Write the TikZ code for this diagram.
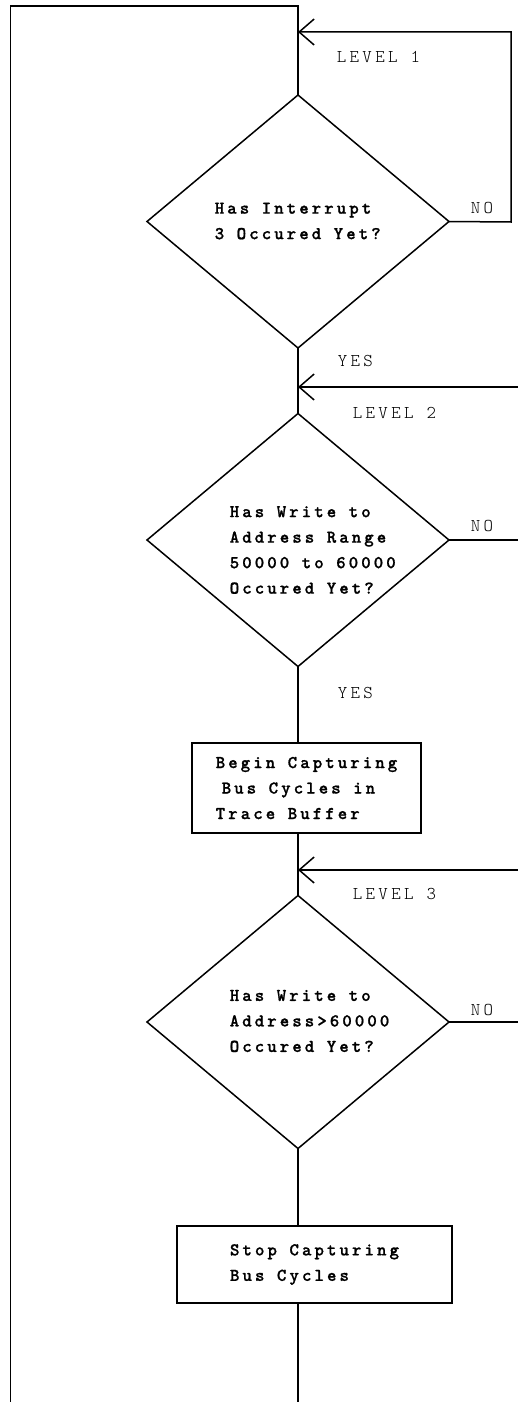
\documentclass[tikz,border=0pt]{standalone}
\usepackage{fontspec}
\usetikzlibrary{shapes.geometric,arrows.meta}
\newfontfamily\myboldmono{lmmonolt10-bold.otf}[LetterSpace=17,FakeBold=1]
\newfontfamily\mylightmono{lmmonolt10-regular.otf}[LetterSpace=19]
\newcommand\myboxtext{\myboldmono\fontsize{18}{25.5}\selectfont}
\newcommand\mylbltext{\mylightmono\fontsize{18}{20}\selectfont}
\begin{document}
\begin{tikzpicture}[x=1pt,y=-1pt,line width=1.5pt,
  dec/.style={draw,diamond,minimum width=302pt,minimum height=253pt,inner sep=0pt,outer sep=0pt},
  proc/.style={draw,rectangle,inner sep=0pt,outer sep=0pt,align=left,font=\myboxtext},
  qtext/.style={anchor=west,align=left,font=\myboxtext,inner sep=0pt},
  lbl/.style={anchor=west,font=\mylbltext,inner sep=0pt},
  arr/.style={-{Straight Barb[length=15pt,width=26pt]}}]
\useasboundingbox (0,0) rectangle (517,1402);
% shapes
\node[dec] (d1) at (298,221.5) {};
\node[dec] (d2) at (298,540) {};
\node[dec] (d3) at (298,1022) {};
\node[proc,minimum width=229pt,minimum height=90pt] (b1) at (306.5,788)
  {Begin Capturing\\\hspace*{6pt}Bus Cycles in\\Trace Buffer};
\node[proc,minimum width=275pt,minimum height=77pt] (b2) at (314.5,1264.5)
  {Stop Capturing\\Bus Cycles};
% texts in diamonds
\node[qtext] (t1) at (214,221) {Has Interrupt\\3 Occured Yet?};
\node[qtext] (t2) at (229,550) {Has Write to\\Address Range\\50000 to 60000\\Occured Yet?};
\node[qtext] (t3) at (229,1021) {Has Write to\\Address>60000\\Occured Yet?};
% labels
\node[lbl] (l1) at (336,57) {LEVEL 1};
\node[lbl] (n1) at (470,208) {NO};
\node[lbl] (y1) at (337,361) {YES};
\node[lbl] (l2) at (352,413) {LEVEL 2};
\node[lbl] (n2) at (470,526) {NO};
\node[lbl] (y2) at (337,693) {YES};
\node[lbl] (l3) at (352,894) {LEVEL 3};
\node[lbl] (n3) at (470,1010) {NO};
% coordinates
\coordinate (top) at (298,6);
\coordinate (tl) at (10.5,6);
\coordinate (bl) at (10.5,1402);
\coordinate (bend) at (298,1402);
\coordinate (a1) at (298,32);
\coordinate (r1t) at (511,32);
\coordinate (r1b) at (511,222);
\coordinate (in2) at (518,387);
\coordinate (a2) at (298,387);
\coordinate (no2) at (518,540);
\coordinate (in3) at (518,870);
\coordinate (a3) at (298,870);
\coordinate (no3) at (518,1022);
% connectors
\draw (d1.north) -- (top) -- (tl) -- (bl);
\draw[arr] (d1.east) -- (r1b) -- (r1t) -- (a1);
\draw (d1.south) -- (d2.north);
\draw[arr] (in2) -- (a2);
\draw (d2.east) -- (no2);
\draw (d2.south) -- (d2.south |- b1.north);
\draw (b1.south -| d2.south) -- (d3.north);
\draw[arr] (in3) -- (a3);
\draw (d3.east) -- (no3);
\draw (d3.south) -- (d3.south |- b2.north);
\draw (b2.south -| d3.south) -- (bend);
\end{tikzpicture}
\end{document}
